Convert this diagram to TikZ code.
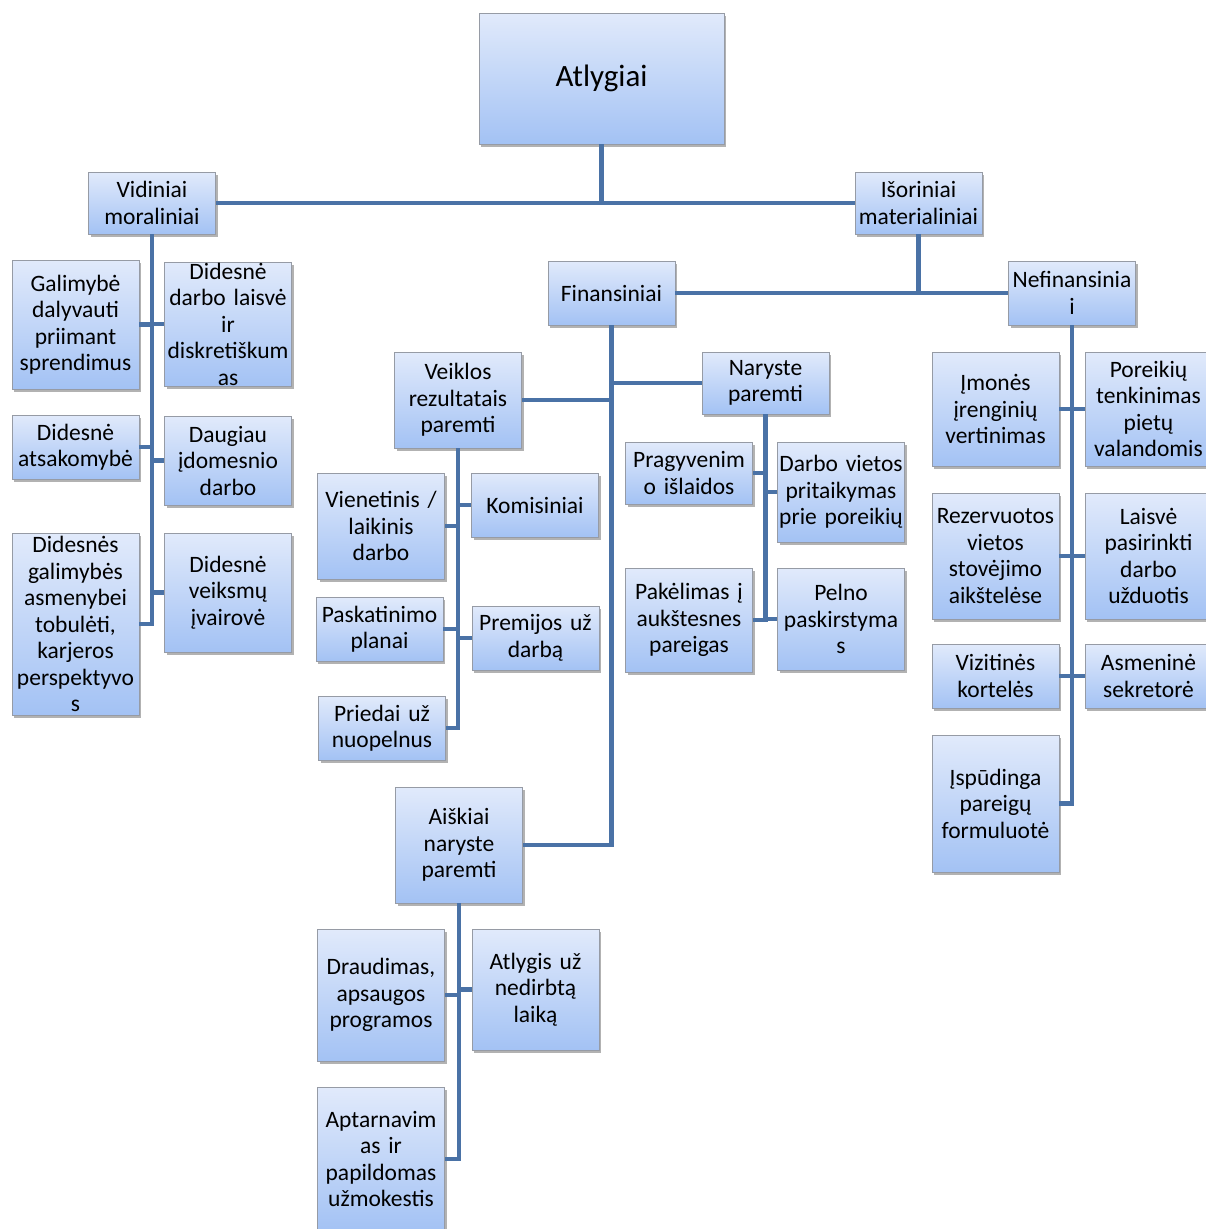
\documentclass[tikz,border=0pt]{standalone}
\usepackage{fontspec}
\setmainfont[WordSpace=0.8]{Carlito}
\usetikzlibrary{shadows}
\definecolor{linkblue}{RGB}{74,114,166}
\definecolor{boxtop}{RGB}{225,234,251}
\definecolor{boxbottom}{RGB}{163,194,244}
\definecolor{boxline}{RGB}{150,155,165}

\begin{document}
\begin{tikzpicture}[x=1pt,y=1pt,yscale=-1,xscale=1,
  box/.style={draw=boxline, line width=0.8pt, top color=boxtop, bottom color=boxbottom,
    text width=141pt, align=center, inner xsep=-7pt, inner ysep=0pt, minimum height=#1,
    font=\fontsize{23.5}{26.5}\selectfont,
    drop shadow={shadow xshift=2pt, shadow yshift=-3pt, opacity=0.3, fill=black}},
  box/.default=64pt,
  link/.style={draw=linkblue, line width=4.5pt}]
%set diagram size to the reference page
\fill[white] (0,0) rectangle (1205,1229);
\useasboundingbox (0,0) rectangle (1205,1229);

% top levels
\node[box=131pt, text width=259pt, font=\fontsize{31}{36}\selectfont] (atl) at (601.5,78.5) {Atlygiai};
\node[box=62pt] (vid) at (152,203) {Vidiniai\\moraliniai};
\node[box=62pt] (iso) at (918.5,203) {Išoriniai\\materialiniai};
\node[box=64pt] (fin) at (611.5,293) {Finansiniai};
\node[box=64pt] (nef) at (1072,293) {Nefinansinia\\i};

% Vidiniai moraliniai
\node[box=129pt] (gal) at (75.5,324.5) {Galimybė\\dalyvauti\\priimant\\sprendimus};
\node[box=124pt] (dlai) at (228,324) {Didesnė\\darbo laisvė\\ir\\diskretiškum\\as};
\node[box=64pt] (ats) at (75.5,447) {Didesnė\\atsakomybė};
\node[box=89pt] (dau) at (228,460.5) {Daugiau\\įdomesnio\\darbo};
\node[box=182pt] (gtob) at (75.5,624) {Didesnės\\galimybės\\asmenybei\\tobulėti,\\karjeros\\perspektyvo\\s};
\node[box=119pt] (ivair) at (228,592.5) {Didesnė\\veiksmų\\įvairovė};

% Finansiniai
\node[box=96pt] (vei) at (458,400) {Veiklos\\rezultatais\\paremti};
\node[box=62pt] (nar) at (765.5,383) {Naryste\\paremti};
\node[box=116pt] (aisk) at (459,845) {Aiškiai\\naryste\\paremti};

% Veiklos rezultatais paremti
\node[box=106pt] (vien) at (381,526) {Vienetinis /\\laikinis\\darbo};
\node[box=64pt] (kom) at (535,505) {Komisiniai};
\node[box=64pt] (pask) at (379.5,629) {Paskatinimo\\planai};
\node[box=64pt] (prem) at (535.5,638) {Premijos už\\darbą};
\node[box=64pt] (pried) at (382,728) {Priedai už\\nuopelnus};

% Naryste paremti
\node[box=62pt] (prag) at (689,473) {Pragyvenim\\o išlaidos};
\node[box=100pt] (dviet) at (841,492) {Darbo vietos\\pritaikymas\\prie poreikių};
\node[box=104pt] (pakel) at (689,620) {Pakėlimas į\\aukštesnes\\pareigas};
\node[box=102pt] (peln) at (841,619) {Pelno\\paskirstyma\\s};

% Aiskiai naryste paremti
\node[box=132pt] (draud) at (381,995) {Draudimas,\\apsaugos\\programos};
\node[box=121pt] (atlyg) at (535.5,989.5) {Atlygis už\\nedirbtą\\laiką};
\node[box=144pt] (aptarn) at (381,1159) {Aptarnavim\\as ir\\papildomas\\užmokestis};

% Nefinansiniai
\node[box=114pt] (imon) at (995.5,409) {Įmonės\\įrenginių\\vertinimas};
\node[box=114pt] (poreik) at (1148.5,409) {Poreikių\\tenkinimas\\pietų\\valandomis};
\node[box=126pt] (rez) at (995.5,556) {Rezervuotos\\vietos\\stovėjimo\\aikštelėse};
\node[box=126pt] (laisv) at (1148.5,556) {Laisvė\\pasirinkti\\darbo\\užduotis};
\node[box=64pt] (viz) at (995.5,676) {Vizitinės\\kortelės};
\node[box=64pt] (asm) at (1148.5,676) {Asmeninė\\sekretorė};
\node[box=137pt] (isp) at (995.5,803.5) {Įspūdinga\\pareigų\\formuluotė};

% connectors
\draw[link] (atl.south) |- (vid.east);
\draw[link] (atl.south) |- (iso.west);
\draw[link] (iso.south) |- (fin.east);
\draw[link] (iso.south) |- (nef.west);

\foreach \kid in {gal,ats,gtob} \draw[link] (vid.south) |- (\kid.east);
\foreach \kid in {dlai,dau,ivair} \draw[link] (vid.south) |- (\kid.west);

\draw[link] (fin.south) |- (vei.east);
\draw[link] (fin.south) |- (nar.west);
\draw[link] (fin.south) |- (aisk.east);

\foreach \kid in {vien,pask,pried} \draw[link] (vei.south) |- (\kid.east);
\foreach \kid in {kom,prem} \draw[link] (vei.south) |- (\kid.west);

\foreach \kid in {prag,pakel} \draw[link] (nar.south) |- (\kid.east);
\foreach \kid in {dviet,peln} \draw[link] (nar.south) |- (\kid.west);

\foreach \kid in {draud,aptarn} \draw[link] (aisk.south) |- (\kid.east);
\draw[link] (aisk.south) |- (atlyg.west);

\foreach \kid in {imon,rez,viz,isp} \draw[link] (nef.south) |- (\kid.east);
\foreach \kid in {poreik,laisv,asm} \draw[link] (nef.south) |- (\kid.west);

\end{tikzpicture}
\end{document}
